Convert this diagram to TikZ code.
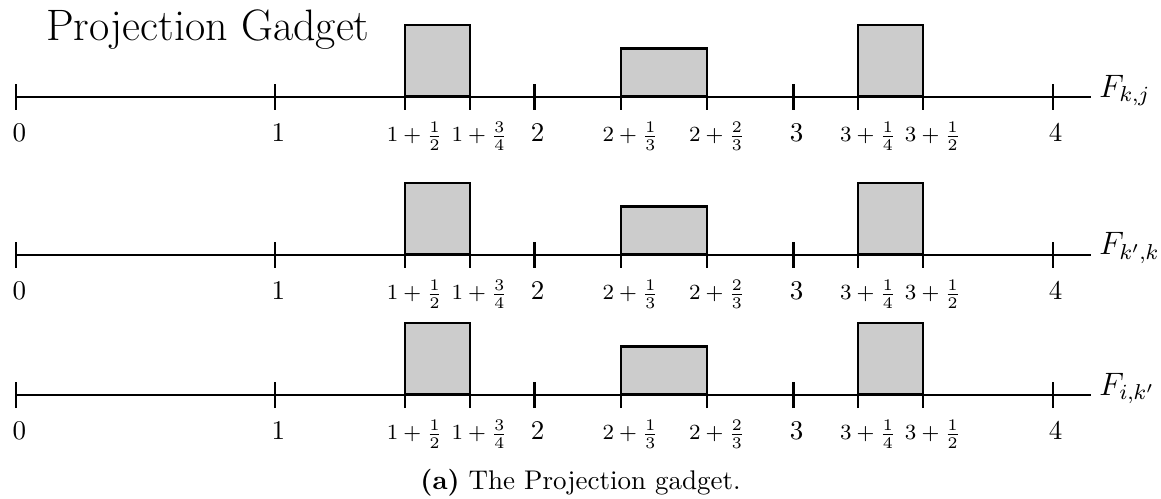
\documentclass[tikz,border=0pt]{standalone}
\usepackage{tikz}
\usetikzlibrary{positioning}
\tikzset{
  axis/.style={thick},
  tick/.style={thick},
  slot/.style={draw,thick,fill=black!20},
  val/.style={anchor=base,inner sep=0pt},
  fval/.style={anchor=base,inner sep=0pt,font=\footnotesize},
  flab/.style={anchor=base west,inner sep=0pt,xshift=2.5pt,font=\large},
}

\begin{document}
\begin{tikzpicture}[x=3.372cm,y=1cm]
  \useasboundingbox (-0.0629,-5.232) rectangle (4.4185,1.2625);
  \node[anchor=base west,inner sep=0pt,font=\fontsize{16.3}{19}\selectfont] (title) at (0.1134,0.742) {Projection Gadget};
  % one number line per pair
  \foreach \lab/\y [count=\r] in {{F_{k,j}}/0,{F_{k',k}}/-2.056,{F_{i,k'}}/-3.879}{
    \draw[axis] (0,\y) -- (4.149,\y) node[flab] (f\r) {$\lab$};
    \foreach \x in {0,...,4}{
      \draw[tick] (\x,\y-0.169) -- (\x,\y+0.169);
      \node[val] (d\r\x) at (\x+0.012,\y-0.582) {$\x$};
    }
    \foreach \p/\t [count=\i] in {1.5/{1+\frac{1}{2}},1.75/{1+\frac{3}{4}},2.3333/{2+\frac{1}{3}},
        2.6667/{2+\frac{2}{3}},3.25/{3+\frac{1}{4}},3.5/{3+\frac{1}{2}}}{
      \draw[tick] (\p,\y-0.169) -- (\p,\y+0.169);
      \node[fval] (p\r\i) at (\p+0.038,\y-0.582) {$\t$};
    }
    \foreach \a/\b/\h in {1.5/1.75/0.937,2.3333/2.6667/0.631,3.25/3.5/0.937}
      \draw[slot] (\a,\y+0.015) rectangle (\b,\y+\h);
  }
  \node[anchor=base] (cap) at (2.178,-5.115) {\textbf{(a)} The Projection gadget.};
\end{tikzpicture}
\end{document}
